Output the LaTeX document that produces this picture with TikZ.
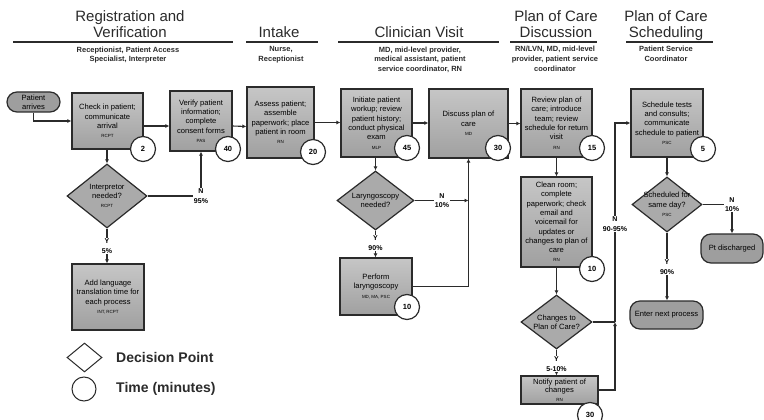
\documentclass[tikz,border=0pt]{standalone}
\usepackage{fontspec}
\setmainfont{Liberation Sans}
\usetikzlibrary{arrows.meta,shapes.geometric,calc}

\definecolor{ink}{HTML}{2B2B2B}
\definecolor{boxtop}{HTML}{C6C6C6}
\definecolor{boxbot}{HTML}{A0A0A0}
\definecolor{decfill}{HTML}{AAAAAA}
\definecolor{termfill}{HTML}{9E9E9E}

% small staff abbreviation printed under each step
\newcommand{\staff}[1]{{\fontsize{4.5}{6}\selectfont #1}}

\tikzset{
  proc/.style={draw=ink, line width=1.2pt, top color=boxtop, bottom color=boxbot,
    inner sep=1pt, align=center, text=black, font=\fontsize{7.6}{9.3}\selectfont},
  term/.style={draw=ink, line width=1.2pt, fill=termfill, rounded corners=10pt,
    inner sep=1pt, align=center, text=black, font=\fontsize{7.6}{9.3}\selectfont},
  dec/.style={diamond, draw=ink, line width=1.2pt, fill=decfill, inner sep=0pt},
  dectext/.style={align=center, inner sep=0pt, text=black, font=\fontsize{7.6}{9.3}\selectfont},
  timec/.style={circle, draw=ink, line width=1.2pt, fill=white, minimum size=25pt,
    inner sep=0pt, text=black, font=\bfseries\fontsize{7.5}{9}\selectfont},
  flow/.style={draw=ink, line width=1.1pt, -{Latex[length=4pt,width=4pt]}},
  link/.style={draw=ink, line width=1.1pt},
  tag/.style={fill=white, inner sep=0.8pt, align=center, text=black,
    font=\bfseries\fontsize{7}{9.5}\selectfont},
  phase/.style={anchor=north, align=center, inner sep=0pt, text=ink,
    font=\fontsize{15}{16.5}\selectfont},
  crew/.style={anchor=north, align=center, inner sep=0pt, text=ink,
    font=\bfseries\fontsize{7.5}{9.7}\selectfont},
  rule/.style={draw=ink, line width=1.6pt},
  legendtext/.style={anchor=west, inner sep=0pt, text=ink,
    font=\bfseries\fontsize{14}{16}\selectfont},
}

\begin{document}
\begin{tikzpicture}[x=1pt, y=-1pt]
\useasboundingbox (0,0) rectangle (764,420);
\fill[white] (0,0) rectangle (764,420);

% ---- phase headings ----
\node[phase] (hReg) at (130,10) {Registration and\\Verification};
\draw[rule] (13,42) -- (233,42);
\node[crew] (rReg) at (128,46.5) {Receptionist, Patient Access\\Specialist, Interpreter};

\node[phase] (hIntake) at (279,26.5) {Intake};
\draw[rule] (246,42) -- (318,42);
\node[crew] (rIntake) at (281,46.5) {Nurse,\\Receptionist};

\node[phase] (hVisit) at (419,26.5) {Clinician Visit};
\draw[rule] (338,42) -- (499,42);
\node[crew] (rVisit) at (420,46.5) {MD, mid-level provider,\\medical assistant, patient\\service coordinator, RN};

\node[phase] (hDisc) at (556,10) {Plan of Care\\Discussion};
\draw[rule] (510,42) -- (597,42);
\node[crew] (rDisc) at (555,46) {RN/LVN, MD, mid-level\\provider, patient service\\coordinator};

\node[phase] (hSched) at (666,10) {Plan of Care\\Scheduling};
\draw[rule] (626,42) -- (713,42);
\node[crew] (rSched) at (666,46) {Patient Service\\Coordinator};

% ---- steps ----
\node[term, minimum width=53pt, minimum height=20pt] (arrive) at (33.5,102) {Patient\\arrives};

\node[proc, minimum width=71pt, minimum height=56pt] (checkin) at (107.5,121)
  {Check in patient;\\communicate\\arrival\\\staff{RCPT}};
\node[proc, minimum width=62pt, minimum height=60pt] (verify) at (201,121)
  {Verify patient\\information;\\complete\\consent forms\\\staff{PAS}};
\node[proc, minimum width=67pt, minimum height=71pt] (assess) at (280.5,122.5)
  {Assess patient;\\assemble\\paperwork; place\\patient in room\\\staff{RN}};
\node[proc, minimum width=71pt, minimum height=68pt] (initiate) at (376.5,123)
  {Initiate patient\\workup; review\\patient history;\\conduct physical\\exam\\\staff{MLP}};
\node[proc, minimum width=79pt, minimum height=69pt] (discuss) at (468.5,123.5)
  {Discuss plan of\\care\\\staff{MD}};
\node[proc, minimum width=71pt, minimum height=68pt] (review) at (556.5,123)
  {Review plan of\\care; introduce\\team; review\\schedule for return\\visit\\\staff{RN}};
\node[proc, minimum width=72pt, minimum height=68pt] (schedule) at (667,123)
  {Schedule tests\\and consults;\\communicate\\schedule to patient\\\staff{PSC}};

\node[dec, minimum width=80pt, minimum height=64pt] (interp) at (107,196) {};
\node[dectext] (interpText) at (interp) {Interpretor\\needed?\\\staff{RCPT}};
\node[proc, minimum width=72pt, minimum height=66pt] (addlang) at (108,297)
  {Add language\\translation time for\\each process\\\staff{INT, RCPT}};

\node[dec, minimum width=77pt, minimum height=59pt] (laryn) at (375.5,200.5) {};
\node[dectext] (larynText) at (laryn) {Laryngoscopy\\needed?};
\node[proc, minimum width=72pt, minimum height=57pt] (perform) at (376,286.5)
  {Perform\\laryngoscopy\\\staff{MD, MA, PSC}};

\node[proc, minimum width=71pt, minimum height=90pt] (clean) at (556.5,222)
  {Clean room;\\complete\\paperwork; check\\email and\\voicemail for\\updates or\\changes to plan of\\care\\\staff{RN}};
\node[dec, minimum width=71pt, minimum height=54pt] (changes) at (556.5,322) {};
\node[dectext] (changesText) at (changes) {Changes to\\Plan of Care?};
\node[proc, minimum width=77pt, minimum height=28pt, inner sep=0pt,
  font=\fontsize{7.6}{8.6}\selectfont] (notify) at (559.5,390)
  {Notify patient of\\changes\\\staff{RN}};

\node[dec, minimum width=70pt, minimum height=55pt] (sameday) at (667,204.5) {};
\node[dectext] (samedayText) at (sameday) {Scheduled for\\same day?\\\staff{PSC}};
\node[term, minimum width=62pt, minimum height=29pt] (discharged) at (732,248.5) {Pt discharged};
\node[term, minimum width=73pt, minimum height=28pt] (nextproc) at (666.5,315) {Enter next process};

% ---- connectors ----
\draw[flow] (arrive.south) |- (checkin.west);
\draw[flow] ($(checkin.east)+(0,5)$) -- ($(verify.west)+(0,5)$);
\draw[flow] ($(verify.east)+(0,5)$) -- ($(assess.west)+(0,4)$);
\draw[flow] (assess.east) -- (initiate.west |- assess.east);
\draw[flow] (initiate.east) -- (discuss.west |- initiate.east);
\draw[flow] (discuss.east) -- (review.west |- discuss.east);

\draw[flow] (checkin.south -| interp.north) -- (interp.north);
\draw[flow] (interp.east) -| (verify.south);
\node[tag] (tagInterpN) at (verify.south |- interp.east) {N\\95\%};
\draw[flow] (interp.south) -- (addlang.north -| interp.south);
\node[tag] (tagInterpY) at (107,246) {Y\\5\%};

\draw[flow] (initiate.south -| laryn.north) -- (laryn.north);
\coordinate (joinVisit) at (discuss.south |- laryn.east);
\draw[flow] (laryn.east) -- (joinVisit);
\node[tag] (tagLarynN) at (442,200.5) {N\\10\%};
\draw[flow] (perform.east) -| (discuss.south);
\draw[flow] (laryn.south) -- (perform.north -| laryn.south);
\node[tag] (tagLarynY) at (375.5,243) {Y\\90\%};

\draw[flow] (review.south) -- (clean.north);
\draw[flow] (clean.south) -- (changes.north);
\draw[flow] (changes.south) -- (notify.north -| changes.south);
\node[tag] (tagChangesY) at (556.5,364) {Y\\5-10\%};
\coordinate (joinCare) at (615,322);
\draw[flow] (notify.east) -| (joinCare);
\draw[link] (changes.east) -- (joinCare);
\draw[flow] (joinCare) |- (schedule.west);
\node[tag] (tagChangesN) at (615,224) {N\\90-95\%};

\draw[flow] (schedule.south) -- (sameday.north);
\draw[flow] (sameday.east) -| (discharged.north);
\node[tag] (tagSameN) at (discharged.north |- sameday.east) {N\\10\%};
\draw[flow] (sameday.south) -- (nextproc.north -| sameday.south);
\node[tag] (tagSameY) at (667,267) {Y\\90\%};

% ---- time circles ----
\node[timec] (tCheckin) at (143,149) {2};
\node[timec] (tVerify) at (228,149) {40};
\node[timec] (tAssess) at (313,152) {20};
\node[timec] (tInitiate) at (407,148) {45};
\node[timec] (tDiscuss) at (498,148) {30};
\node[timec] (tReview) at (592,148) {15};
\node[timec] (tSchedule) at (703,149) {5};
\node[timec] (tClean) at (592,269) {10};
\node[timec] (tPerform) at (407,307) {10};
\node[timec] (tNotify) at (590,415) {30};

% ---- legend ----
\node[diamond, draw=ink, line width=1pt, fill=white, inner sep=0pt,
  minimum width=35pt, minimum height=29pt] (legDecision) at (84.5,357.5) {};
\node[legendtext] (legDecisionText) at (116,357.5) {Decision Point};
\node[circle, draw=ink, line width=1pt, fill=white, inner sep=0pt,
  minimum size=24pt] (legTime) at (84,389) {};
\node[legendtext] (legTimeText) at (116,389) {Time (minutes)};
\end{tikzpicture}
\end{document}
